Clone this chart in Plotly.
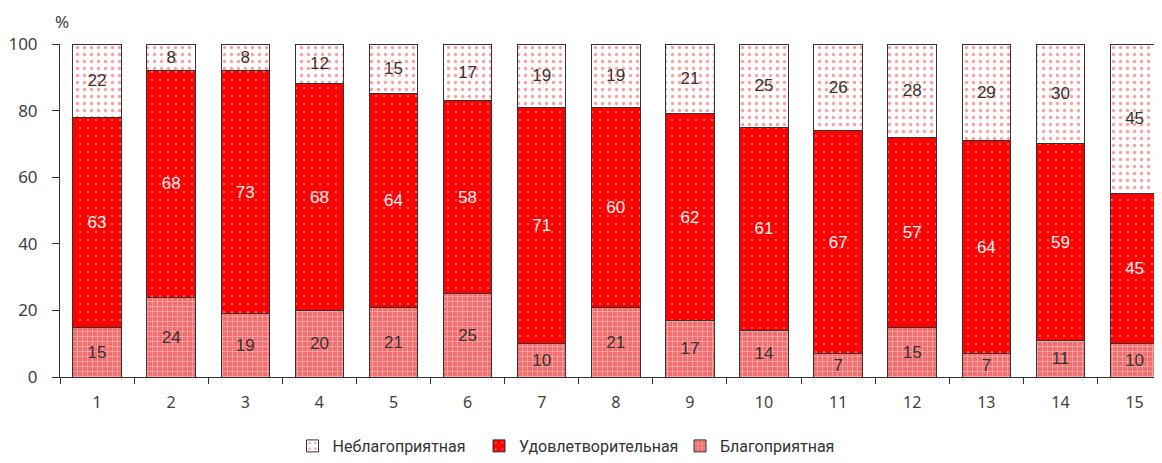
import plotly.graph_objects as go

categories = [str(i) for i in range(1, 16)]
favorable = [15, 24, 19, 20, 21, 25, 10, 21, 17, 14, 7, 15, 7, 11, 10]
satisfactory = [63, 68, 73, 68, 64, 58, 71, 60, 62, 61, 67, 57, 64, 59, 45]
unfavorable = [22, 8, 8, 12, 15, 17, 19, 19, 21, 25, 26, 28, 29, 30, 45]
y_ticks = [0, 20, 40, 60, 80, 100]

names = ["Благоприятная", "Удовлетворительная", "Неблагоприятная"]

tick_font = "Noto Sans, Open Sans, sans-serif"
label_font = "Liberation Sans, Arial, sans-serif"
legend_font = "Roboto, sans-serif"

fig = go.Figure()
common = dict(width=0.655, textposition="inside", insidetextanchor="middle",
              textangle=0, constraintext="none", cliponaxis=False)

fig.add_trace(go.Bar(
    x=categories, y=favorable, name=names[0], text=favorable,
    marker=dict(color="#f07070", line=dict(color="#333333", width=1),
                pattern=dict(shape="+", fgcolor="#ffffff", bgcolor="#f36e6e",
                             size=5, solidity=0.25)),
    textfont=dict(family=label_font, size=17, color="#333333"),
    legend="legend3", **common))
fig.add_trace(go.Bar(
    x=categories, y=satisfactory, name=names[1], text=satisfactory,
    marker=dict(color="#ff0000", line=dict(color="#333333", width=1),
                pattern=dict(shape=".", fgcolor="#ffffff", bgcolor="#ff0000",
                             size=8, solidity=0.06)),
    textfont=dict(family=label_font, size=17, color="#f4f4f4"),
    legend="legend2", **common))
fig.add_trace(go.Bar(
    x=categories, y=unfavorable, name=names[2], text=unfavorable,
    marker=dict(color="#ffffff", line=dict(color="#333333", width=1),
                pattern=dict(shape=".", fgcolor="#ff3a3a", bgcolor="#ffffff",
                             size=7, solidity=0.18)),
    textfont=dict(family=label_font, size=17, color="#333333"),
    legend="legend", **common))

leg_common = dict(orientation="h", yref="container", yanchor="bottom", y=0.0,
                  xanchor="left",
                  font=dict(family=legend_font, size=16, color="#333333"),
                  bgcolor="rgba(0,0,0,0)", itemwidth=30)

fig.update_layout(
    width=1154, height=455,
    margin=dict(l=52, r=0, t=36, b=86),
    plot_bgcolor="#ffffff", paper_bgcolor="#ffffff",
    barmode="stack",
    showlegend=True,
    legend=dict(x=(292.5 - 60) / 1102, **leg_common),
    legend2=dict(x=(479 - 60) / 1102, **leg_common),
    legend3=dict(x=(680 - 60) / 1102, **leg_common),
    xaxis=dict(type="category", range=[-0.5, 14.37], showline=True,
               linecolor="#333333", linewidth=1, ticks="outside", ticklen=6,
               tickcolor="#333333", tickson="boundaries", showgrid=False,
               ticklabelstandoff=11,
               tickfont=dict(family=tick_font, size=16, color="#404040")),
    yaxis=dict(range=[0, 100], tickvals=y_ticks, showline=True,
               linecolor="#333333", linewidth=1, ticks="outside", ticklen=7,
               tickcolor="#333333", showgrid=False, zeroline=False,
               ticklabelstandoff=11,
               tickfont=dict(family=tick_font, size=17, color="#404040")),
    annotations=[dict(text="%", xref="paper", yref="paper", x=0, y=1,
                      xanchor="center", yanchor="bottom", yshift=9, xshift=2,
                      showarrow=False,
                      font=dict(family=tick_font, size=17, color="#404040"))],
)

fig.write_html("out.html")
